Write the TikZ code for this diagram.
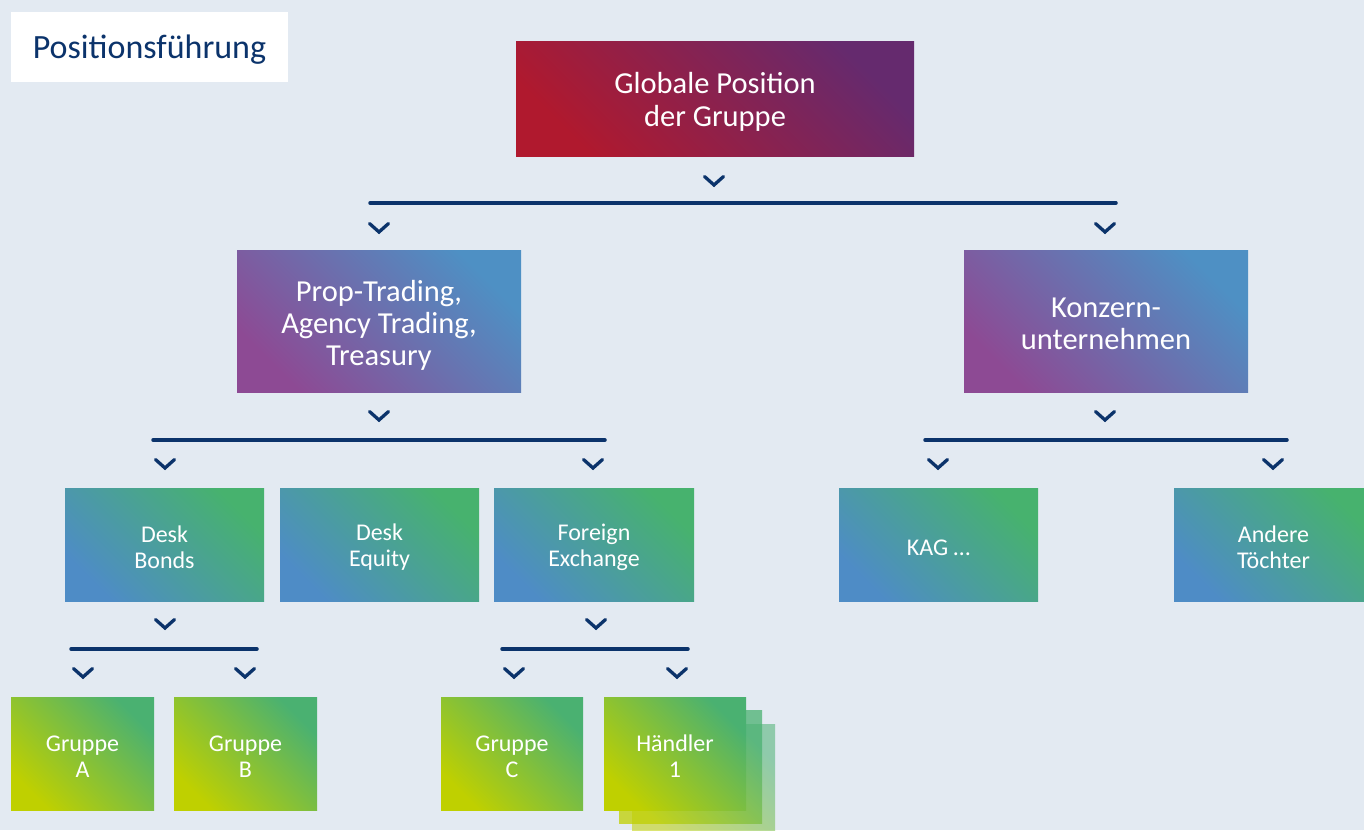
\documentclass[tikz,border=0pt]{standalone}
\usepackage{fontspec}
\setmainfont{Carlito}
\definecolor{bg}{HTML}{E3EAF2}
\definecolor{navy}{HTML}{0B336B}
\definecolor{redA}{HTML}{B0192E}
\definecolor{redB}{HTML}{652A6E}
\definecolor{purA}{HTML}{8D4A94}
\definecolor{purB}{HTML}{4E90C4}
\definecolor{deskA}{HTML}{4E8CC6}
\definecolor{deskB}{HTML}{47B26E}
\definecolor{leafA}{HTML}{BFD000}
\definecolor{leafB}{HTML}{4AB171}
\begin{document}
\begin{tikzpicture}[x=1pt,y=-1pt,
  box/.style={rectangle, inner sep=0pt},
  txt/.style={inner sep=0pt, text=white, align=center, yshift=-3pt},
  bigtxt/.style={txt, font=\fontsize{30.5}{33}\selectfont},
  midtxt/.style={txt, font=\fontsize{30.5}{32}\selectfont},
  smalltxt/.style={txt, font=\fontsize{24}{26}\selectfont},
  topbox/.style={box, minimum width=398pt, minimum height=115pt,
    bottom color=redA, top color=redB, shading angle=-45},
  midbox/.style={box, minimum width=284pt, minimum height=142pt,
    bottom color=purA, top color=purB, shading angle=-45},
  deskbox/.style={box, minimum width=199pt, minimum height=113pt,
    bottom color=deskA, top color=deskB, shading angle=-45},
  leafbox/.style={box, minimum width=143pt, minimum height=113pt,
    bottom color=leafA, top color=leafB, shading angle=-45},
  bar/.style={navy, line width=3.5pt, line cap=round},
  chev/.pic={\draw[navy, line width=3.3pt, line cap=round, line join=miter] (-9.5,-4.5) -- (0,4) -- (9.5,-4.5);}
]
\fill[bg] (0,0) rectangle (1364,830);
\clip (0,0) rectangle (1364,830);

% title
\node[rectangle, fill=white, minimum width=277pt, minimum height=70pt, inner sep=0pt] (title) at (149.5,47) {};
\node[inner sep=0pt, text=navy, font=\fontsize{34}{36}\selectfont, yshift=-2.5pt] (titlet) at (title.center) {Positionsführung};

% boxes
\node[topbox] (top) at (715,98.5) {};
\node[midbox] (prop) at (379,321) {};
\node[midbox] (konz) at (1106,321) {};

\node[deskbox] (bonds) at (164.5,544.5) {};
\node[deskbox] (equity) at (379.5,544.5) {};
\node[deskbox, minimum width=200pt] (fx) at (594,544.5) {};
\node[deskbox] (kag) at (938.5,544.5) {};
\node[deskbox] (andere) at (1273.5,544.5) {};

\node[leafbox, opacity=0.55] (h3) at (703.5,781) {};
\node[leafbox, opacity=0.75] (h2) at (690.5,767) {};
\node[leafbox] (ga) at (82.5,753.5) {};
\node[leafbox] (gb) at (245.5,753.5) {};
\node[leafbox, minimum width=142pt] (gc) at (512,753.5) {};
\node[leafbox, minimum width=142pt] (h1) at (675,753.5) {};

% texts
\node[bigtxt] (topt) at (top.center) {Globale Position\\der Gruppe};
\node[midtxt, yshift=-1pt] (propt) at (prop.center) {Prop-Trading,\\Agency Trading,\\Treasury};
\node[midtxt] (konzt) at (konz.center) {Konzern-\\unternehmen};
\node[smalltxt] (bondst) at (bonds.center) {Desk\\Bonds};
\node[smalltxt] (equityt) at (equity.center) {Desk\\Equity};
\node[smalltxt] (fxt) at (fx.center) {Foreign\\Exchange};
\node[smalltxt] (kagt) at (kag.center) {KAG \dots};
\node[smalltxt] (anderet) at (andere.center) {Andere\\Töchter};
\node[smalltxt] (gat) at (ga.center) {Gruppe\\A};
\node[smalltxt] (gbt) at (gb.center) {Gruppe\\B};
\node[smalltxt] (gct) at (gc.center) {Gruppe\\C};
\node[smalltxt] (h1t) at (h1.center) {Händler\\1};

% level 1
\pic at (714,181) {chev};
\coordinate (b1l) at (370,203); \coordinate (b1r) at (1116,203);
\draw[bar] (b1l) -- (b1r);
\pic at (379,228) {chev};
\pic at (1105,228) {chev};

% level 2 left
\pic at (379,416) {chev};
\coordinate (b2l) at (153,440); \coordinate (b2r) at (605,440);
\draw[bar] (b2l) -- (b2r);
\pic at (165,464) {chev};
\pic at (593,464) {chev};

% level 2 right
\pic at (1105,416) {chev};
\coordinate (b3l) at (925,440); \coordinate (b3r) at (1287,440);
\draw[bar] (b3l) -- (b3r);
\pic at (938,464) {chev};
\pic at (1273,464) {chev};

% level 3 bonds
\pic at (165,624) {chev};
\coordinate (b4l) at (71,649); \coordinate (b4r) at (257,649);
\draw[bar] (b4l) -- (b4r);
\pic at (83,673) {chev};
\pic at (245,673) {chev};

% level 3 fx
\pic at (596,624) {chev};
\coordinate (b5l) at (502,649); \coordinate (b5r) at (688,649);
\draw[bar] (b5l) -- (b5r);
\pic at (514,673) {chev};
\pic at (677,673) {chev};
\end{tikzpicture}
\end{document}
